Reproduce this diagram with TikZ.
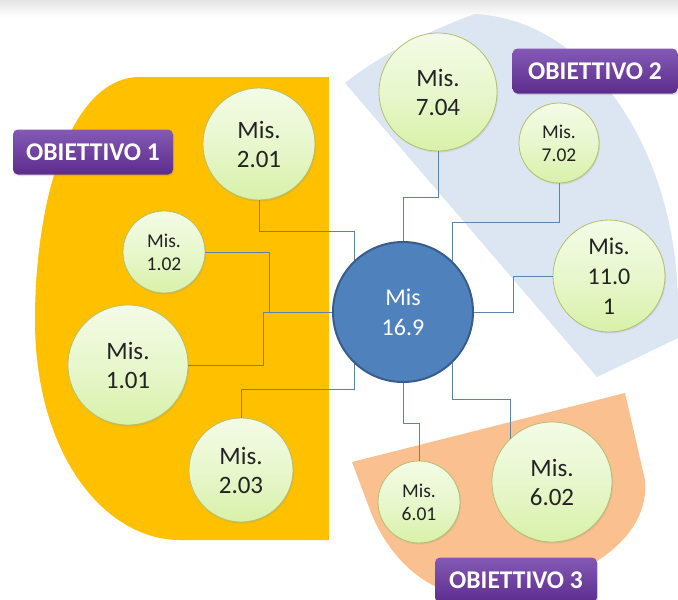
\documentclass[tikz,border=0pt]{standalone}
\usepackage{fontspec}
\setmainfont{Carlito}
\usetikzlibrary{shadows,calc}
\definecolor{orgfill}{HTML}{FFC000}
\definecolor{bluband}{HTML}{DCE6F2}
\definecolor{peach}{HTML}{FAC090}
\definecolor{mistop}{HTML}{F3FBE6}
\definecolor{misbot}{HTML}{D8F1A8}
\definecolor{misline}{HTML}{B3C06C}
\definecolor{mistext}{HTML}{222222}
\definecolor{hubfill}{HTML}{4F81BD}
\definecolor{hubline}{HTML}{385D8A}
\definecolor{connc}{HTML}{5F82AA}
\definecolor{purtop}{HTML}{8459B6}
\definecolor{purbot}{HTML}{5D2C8C}
\tikzset{
  misnode/.style={circle, inner sep=0pt, align=center, draw=misline, line width=0.8pt,
    top color=mistop, bottom color=misbot, middle color=mistop!60!misbot, text=mistext,
    drop shadow={shadow xshift=1pt, shadow yshift=-1.5pt, opacity=0.18}},
  misbig/.style={misnode, font=\fontsize{25}{29}\selectfont},
  missmall/.style={misnode, font=\fontsize{19.5}{23}\selectfont},
  hub/.style={circle, inner sep=0pt, align=center, fill=hubfill, draw=hubline, line width=2pt,
    text=white, font=\fontsize{24}{30}\selectfont, minimum size=140pt},
  goal/.style={rounded corners=5pt, inner sep=0pt, top color=purtop, bottom color=purbot,
    text=white, font=\fontsize{25.5}{28}\selectfont\bfseries,
    minimum width=162pt, minimum height=45pt,
    drop shadow={shadow xshift=1pt, shadow yshift=-1.5pt, opacity=0.25}},
  conn/.style={draw=connc, line width=0.9pt}
}
\begin{document}
\begin{tikzpicture}[x=1pt,y=-1pt]
\useasboundingbox (0,0) rectangle (678,600);
\fill[white] (0,0) rectangle (678,600);
\shade[top color=black!10, bottom color=white] (0,0) rectangle (678,17);
% regions
\fill[orgfill] (329,77) -- (140,77) .. controls (70,77) and (35,200) .. (35,320)
  .. controls (35,455) and (105,540) .. (180,540) -- (329,540) -- cycle;
\fill[bluband] (345,83) -- (597,377) -- (678,338) -- (678,300)
  .. controls (675,150) and (590,20) .. (475,14)
  .. controls (430,30) and (380,55) .. cycle;
\fill[peach] (352,462) -- (625,393) -- (645,480) .. controls (652,560) and (530,600) .. (470,596)
  .. controls (420,592) and (385,550) .. (370,510) -- cycle;
% nodes
\node[hub] (c) at (403,312) {Mis\\16.9};
\node[misbig, minimum size=112pt] (m201) at (259,144) {Mis.\\2.01};
\node[missmall, minimum size=82pt] (m102) at (164,252) {Mis.\\1.02};
\node[misbig, minimum size=120pt] (m101) at (128,365) {Mis.\\1.01};
\node[misbig, minimum size=104pt] (m203) at (241,470) {Mis.\\2.03};
\node[misbig, minimum size=118pt] (m704) at (438,92) {Mis.\\7.04};
\node[missmall, minimum size=80pt] (m702) at (559,143) {Mis.\\7.02};
\node[misbig, minimum size=112pt, font=\fontsize{24}{30}\selectfont] (m1101) at (609,276) {Mis.\\11.0\\1};
\node[missmall, minimum size=82pt] (m601) at (419,502) {Mis.\\6.01};
\node[misbig, minimum size=120pt] (m602) at (552,482) {Mis.\\6.02};
% connectors
\draw[conn] (m201.south) |- (c.133 |- 0,231) -- (c.133);
\draw[conn] (m102.east) -| (269,312) -- (c.west);
\draw[conn] (m101.east) -| (263,312) -- (c.west);
\draw[conn] (m203.north) |- (c.227 |- 0,389) -- (c.227);
\draw[conn] (c.south) -- ++(0,40) -| (m601.north);
\draw[conn] (c.314) |- (m602.134 |- 0,399) -- (m602.134);
\draw[conn] (m704.south) |- (c.north |- 0,197) -- (c.north);
\draw[conn] (m702.south) |- (c.46 |- 0,222) -- (c.46);
\draw[conn] (m1101.west) -| (513,312) -- (c.east);
% goals
\node[goal, minimum width=160pt] (g1) at (93,152) {OBIETTIVO 1};
\node[goal, minimum width=165pt] (g2) at (595,71) {OBIETTIVO 2};
\node[goal] (g3) at (516,580) {OBIETTIVO 3};
\end{tikzpicture}
\end{document}
